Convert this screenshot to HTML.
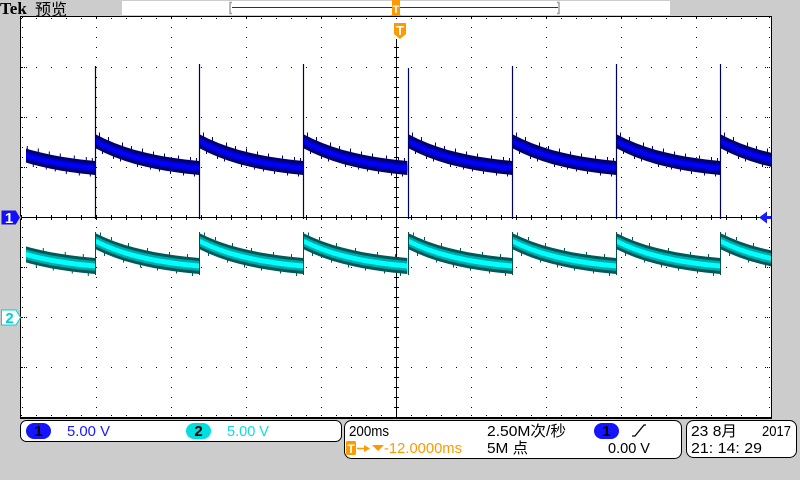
<!DOCTYPE html>
<html><head><meta charset="utf-8"><style>
html,body{margin:0;padding:0;background:#cccccc;width:800px;height:480px;overflow:hidden}
svg{display:block}
text{font-family:"Liberation Sans","Noto Sans CJK SC",sans-serif}
</style></head><body>
<svg width="800" height="480" viewBox="0 0 800 480" xmlns="http://www.w3.org/2000/svg">
<defs>
<g id="c1">
<path fill="#000070" d="M0,134 L10,139.03 L20,143.3 L30,146.9 L40,149.96 L50,152.54 L60,154.73 L70,156.58 L80,158.15 L90,159.48 L104.3,161 L104.3,175 L90,173.48 L80,172.15 L70,170.58 L60,168.73 L50,166.54 L40,163.96 L30,160.9 L20,157.3 L10,153.03 L0,148Z"/>
<path fill="#0000b8" d="M0,137 L10,142.03 L20,146.3 L30,149.9 L40,152.96 L50,155.54 L60,157.73 L70,159.58 L80,161.15 L90,162.48 L104.3,164 L104.3,172 L90,170.48 L80,169.15 L70,167.58 L60,165.73 L50,163.54 L40,160.96 L30,157.9 L20,154.3 L10,150.03 L0,145Z"/>
<path fill="#0000ff" d="M0,139 L10,144.03 L20,148.3 L30,151.9 L40,154.96 L50,157.54 L60,159.73 L70,161.58 L80,163.15 L90,164.48 L104.3,166 L104.3,170 L90,168.48 L80,167.15 L70,165.58 L60,163.73 L50,161.54 L40,158.96 L30,155.9 L20,152.3 L10,148.03 L0,143Z"/>
<path stroke="#000070" stroke-width="1" fill="none" d="M4.5,132.5v4 M13.5,137v4 M27.5,142.5v4 M36.5,146v3 M47.5,148.5v4 M58.5,151.5v3 M69.5,153.5v3 M83.5,155.5v3 M95.5,157v3 M101.5,158v3 M7.5,150v4 M18.5,155v4 M25.5,158v3.5 M42.5,163v4 M55.5,166v3.5 M64.5,168v3.5 M75.5,170v4 M88.5,172v3.5 M99.5,173v3.5"/>
</g>
<g id="c2">
<path fill="#005858" d="M0,233 L10,237.66 L20,241.61 L30,244.95 L40,247.78 L50,250.17 L60,252.2 L70,253.91 L80,255.36 L90,256.59 L104.3,258 L104.3,274 L90,272.59 L80,271.36 L70,269.91 L60,268.2 L50,266.17 L40,263.78 L30,260.95 L20,257.61 L10,253.66 L0,249Z"/>
<path fill="#00a8a8" d="M0,236 L10,240.66 L20,244.61 L30,247.95 L40,250.78 L50,253.17 L60,255.2 L70,256.91 L80,258.36 L90,259.59 L104.3,261 L104.3,271 L90,269.59 L80,268.36 L70,266.91 L60,265.2 L50,263.17 L40,260.78 L30,257.95 L20,254.61 L10,250.66 L0,246Z"/>
<path fill="#00ffff" d="M0,238.5 L10,243.16 L20,247.11 L30,250.45 L40,253.28 L50,255.67 L60,257.7 L70,259.41 L80,260.86 L90,262.09 L104.3,263.5 L104.3,268.5 L90,267.09 L80,265.86 L70,264.41 L60,262.7 L50,260.67 L40,258.28 L30,255.45 L20,252.11 L10,248.16 L0,243.5Z"/>
<path stroke="#005858" stroke-width="1" fill="none" d="M5.5,232.5v3 M16.5,237v3 M33.5,243v3 M52.5,248v3 M74.5,252v3 M92.5,254v3 M9.5,252v4 M28.5,259v3.5 M45.5,264v3.5 M62.5,267v3.5 M81.5,270v3.5 M97.5,272v4"/>
</g>
<clipPath id="cl"><rect x="26" y="17" width="745" height="400"/></clipPath>
</defs>

<rect width="800" height="480" fill="#cccccc"/>

<!-- header -->
<text x="0" y="14" font-family="Liberation Serif" font-weight="bold" font-size="17" fill="#000" style="font-family:'Liberation Serif',serif">Tek</text>
<text x="35" y="15" font-size="16" fill="#000" style="font-family:'Noto Sans CJK SC','WenQuanYi Zen Hei',sans-serif">预览</text>
<rect x="122" y="1" width="548" height="14" fill="#fff"/>
<path d="M232,2.5 h-2 v11 h2" stroke="#a0a0a0" fill="none" stroke-width="1.5"/>
<path d="M557,2.5 h2 v11 h-2" stroke="#a0a0a0" fill="none" stroke-width="1.5"/>
<line x1="232" y1="7.5" x2="558" y2="7.5" stroke="#2020c0" stroke-width="1"/>
<rect x="392" y="0" width="8" height="15" fill="#ff9900"/>
<polygon points="390.5,15 401.5,15 396,22" fill="#ff9900"/>
<text x="396" y="13" font-size="11" font-weight="bold" fill="#fff" text-anchor="middle">T</text>

<!-- plot frame -->
<rect x="20" y="16" width="752" height="403" fill="#000"/>
<rect x="21" y="17" width="750" height="400" fill="#fff"/>

<!-- grid dots: vertical -->
<g stroke="#000" stroke-width="1" stroke-dasharray="1 9">
<line x1="96.5" y1="17" x2="96.5" y2="417"/>
<line x1="171.5" y1="17" x2="171.5" y2="417"/>
<line x1="246.5" y1="17" x2="246.5" y2="417"/>
<line x1="321.5" y1="17" x2="321.5" y2="417"/>
<line x1="471.5" y1="17" x2="471.5" y2="417"/>
<line x1="546.5" y1="17" x2="546.5" y2="417"/>
<line x1="621.5" y1="17" x2="621.5" y2="417"/>
<line x1="696.5" y1="17" x2="696.5" y2="417"/>
<line x1="22.5" y1="17" x2="22.5" y2="417"/>
<line x1="769.5" y1="17" x2="769.5" y2="417"/>
</g>
<!-- grid dots: horizontal -->
<g stroke="#000" stroke-width="1" stroke-dasharray="1 14">
<line x1="21" y1="67.5" x2="771" y2="67.5"/>
<line x1="21" y1="117.5" x2="771" y2="117.5"/>
<line x1="21" y1="167.5" x2="771" y2="167.5"/>
<line x1="21" y1="267.5" x2="771" y2="267.5"/>
<line x1="21" y1="317.5" x2="771" y2="317.5"/>
<line x1="21" y1="367.5" x2="771" y2="367.5"/>
<line x1="21" y1="18.5" x2="771" y2="18.5"/>
<line x1="21" y1="415.5" x2="771" y2="415.5"/>
</g>
<!-- border cluster dots -->
<g fill="#000">
<rect x="24" y="67" width="1" height="1"/><rect x="26" y="67" width="1" height="1"/>
<rect x="24" y="117" width="1" height="1"/><rect x="26" y="117" width="1" height="1"/>
<rect x="24" y="167" width="1" height="1"/><rect x="26" y="167" width="1" height="1"/>
<rect x="24" y="267" width="1" height="1"/><rect x="26" y="267" width="1" height="1"/>
<rect x="24" y="317" width="1" height="1"/><rect x="26" y="317" width="1" height="1"/>
<rect x="24" y="367" width="1" height="1"/><rect x="26" y="367" width="1" height="1"/>
<rect x="765" y="67" width="1" height="1"/><rect x="767" y="67" width="1" height="1"/>
<rect x="765" y="117" width="1" height="1"/><rect x="767" y="117" width="1" height="1"/>
<rect x="765" y="167" width="1" height="1"/><rect x="767" y="167" width="1" height="1"/>
<rect x="765" y="267" width="1" height="1"/><rect x="767" y="267" width="1" height="1"/>
<rect x="765" y="317" width="1" height="1"/><rect x="767" y="317" width="1" height="1"/>
<rect x="765" y="367" width="1" height="1"/><rect x="767" y="367" width="1" height="1"/>
</g>
<!-- center cross -->
<rect x="21" y="217" width="750" height="1" fill="#000"/>
<line x1="21" y1="217.5" x2="771" y2="217.5" stroke="#000" stroke-width="5" stroke-dasharray="1 14"/>
<rect x="396" y="39" width="1" height="378" fill="#000"/>
<line x1="396.5" y1="47" x2="396.5" y2="417" stroke="#000" stroke-width="5" stroke-dasharray="1 9"/>

<!-- traces -->
<g clip-path="url(#cl)">
<use href="#c2" transform="translate(-9.2,0)"/>
<use href="#c2" transform="translate(95,0)"/>
<use href="#c2" transform="translate(199,0)"/>
<use href="#c2" transform="translate(303,0)"/>
<use href="#c2" transform="translate(408,0)"/>
<use href="#c2" transform="translate(512,0)"/>
<use href="#c2" transform="translate(616,0)"/>
<use href="#c2" transform="translate(720,0)"/>
<use href="#c1" transform="translate(-9.2,0)"/>
<use href="#c1" transform="translate(95,0)"/>
<use href="#c1" transform="translate(199,0)"/>
<use href="#c1" transform="translate(303,0)"/>
<use href="#c1" transform="translate(408,0)"/>
<use href="#c1" transform="translate(512,0)"/>
<use href="#c1" transform="translate(616,0)"/>
<use href="#c1" transform="translate(720,0)"/>
</g>
<g stroke="#005050" stroke-width="1">
<line x1="95.5" y1="232" x2="95.5" y2="275"/>
<line x1="199.5" y1="232" x2="199.5" y2="275"/>
<line x1="303.5" y1="232" x2="303.5" y2="275"/>
<line x1="408.5" y1="232" x2="408.5" y2="275"/>
<line x1="512.5" y1="232" x2="512.5" y2="275"/>
<line x1="616.5" y1="232" x2="616.5" y2="275"/>
<line x1="720.5" y1="232" x2="720.5" y2="275"/>
</g>
<g stroke="#000060" stroke-width="1.2">
<line x1="95.5" y1="66" x2="95.5" y2="219"/>
<line x1="199.5" y1="64" x2="199.5" y2="219"/>
<line x1="303.5" y1="64" x2="303.5" y2="219"/>
<line x1="408.5" y1="68" x2="408.5" y2="219"/>
<line x1="512.5" y1="66" x2="512.5" y2="219"/>
<line x1="616.5" y1="64" x2="616.5" y2="219"/>
<line x1="720.5" y1="64" x2="720.5" y2="219"/>
</g>

<!-- trigger level arrow -->
<polygon points="759,217.5 767,211.5 767,223.5" fill="#1a1aff"/>
<rect x="766" y="216" width="5" height="3" fill="#1a1aff"/>

<!-- T badge -->
<path d="M394,23 h12 v11 l-6,5 l-6,-5 z" fill="#ff9900"/>
<text x="400" y="35" font-size="13" font-weight="bold" fill="#fff" text-anchor="middle">T</text>

<!-- channel markers -->
<polygon points="1,210 16,210 20.5,217.5 16,225 1,225" fill="#1010ff" stroke="#d8d0a0" stroke-width="1"/>
<text x="9" y="223" font-size="15" font-weight="bold" fill="#fff" text-anchor="middle">1</text>
<polygon points="1.5,310 16,310 20.5,317.5 16,325 1.5,325" fill="#fff" stroke="#00d0d0" stroke-width="1"/>
<text x="9.5" y="323" font-size="15" font-weight="bold" fill="#00d0d0" text-anchor="middle">2</text>

<!-- bottom panel 1 -->
<rect x="20.5" y="420.5" width="321" height="21" rx="6" fill="#fff" stroke="#000" stroke-width="1"/>
<rect x="26" y="423" width="25" height="16" rx="8" fill="#1414ff"/>
<text x="38.5" y="436" font-size="15" font-weight="bold" fill="#000" text-anchor="middle">1</text>
<text x="67" y="436" font-size="15" fill="#1a1aff" textLength="43" lengthAdjust="spacingAndGlyphs">5.00 V</text>
<rect x="186" y="423" width="25" height="16" rx="8" fill="#00dede"/>
<text x="198.5" y="436" font-size="15" font-weight="bold" fill="#000" text-anchor="middle">2</text>
<text x="227" y="436" font-size="15" fill="#10dcdc" textLength="42" lengthAdjust="spacingAndGlyphs">5.00 V</text>

<!-- bottom panel 2 -->
<rect x="344.5" y="420.5" width="337" height="38" rx="7" fill="#fff" stroke="#000" stroke-width="1"/>
<text x="349" y="436" font-size="15" fill="#000" textLength="40" lengthAdjust="spacingAndGlyphs">200ms</text>
<text x="487" y="436" font-size="15" fill="#000" textLength="79" lengthAdjust="spacingAndGlyphs">2.50M次/秒</text>
<rect x="594" y="423" width="25" height="16" rx="8" fill="#1414ff"/>
<text x="606.5" y="436" font-size="15" font-weight="bold" fill="#000" text-anchor="middle">1</text>
<polyline points="632,436 635,436 644,425 646,425" fill="none" stroke="#000" stroke-width="1.3"/>
<rect x="346" y="441" width="10" height="14" rx="1.5" fill="#ff9900"/>
<text x="351" y="453" font-size="12" font-weight="bold" fill="#fff" text-anchor="middle">T</text>
<line x1="357" y1="448.5" x2="366" y2="448.5" stroke="#ff9900" stroke-width="1.5"/>
<polygon points="364,445 370,448.5 364,452" fill="#ff9900"/>
<polygon points="372,445 384,445 378,451" fill="#ff9900"/>
<text x="384" y="453" font-size="15" fill="#ff9900" textLength="78" lengthAdjust="spacingAndGlyphs">-12.0000ms</text>
<text x="487" y="453" font-size="15" fill="#000" textLength="41" lengthAdjust="spacingAndGlyphs">5M 点</text>
<text x="608" y="453" font-size="15" fill="#000" textLength="42" lengthAdjust="spacingAndGlyphs">0.00 V</text>

<!-- bottom panel 3 -->
<rect x="686.5" y="420.5" width="110" height="37" rx="7" fill="#fff" stroke="#000" stroke-width="1"/>
<text x="691" y="436" font-size="15" fill="#000" textLength="46" lengthAdjust="spacingAndGlyphs">23 8月</text>
<text x="762" y="436" font-size="15" fill="#000" textLength="29" lengthAdjust="spacingAndGlyphs">2017</text>
<text x="691" y="453" font-size="15" fill="#000" textLength="71" lengthAdjust="spacingAndGlyphs">21: 14: 29</text>
</svg>
</body></html>
